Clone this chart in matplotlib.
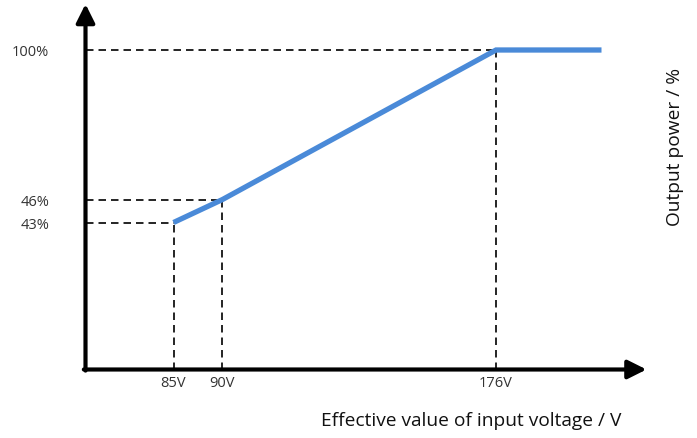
import numpy as np
import matplotlib
matplotlib.use("Agg")
import matplotlib.pyplot as plt

plt.rcParams['font.family'] = ['Open Sans', 'DejaVu Sans']

# curve: input voltage (V) -> output power (%)
voltage = [85, 90, 176, 200]
power = [43, 46, 100, 100]

# marked points with guide lines
guide_v = [85, 90, 176]
guide_p = [43, 46, 100]
xtick_labels = ["85V", "90V", "176V"]
ytick_labels = ["43%", "46%", "100%"]

# schematic (non-linear) axis scales, as drawn in the original
x_knots = [70, 85, 90, 176, 200, 215]
x_units = [0, 88, 137, 410.5, 516, 561]
y_knots = [0, 43, 46, 100, 115]
y_units = [0, 147, 170, 319.5, 365.5]


def fwd_x(v):
    return np.interp(v, x_knots, x_units)


def inv_x(u):
    return np.interp(u, x_units, x_knots)


def fwd_y(v):
    return np.interp(v, y_knots, y_units)


def inv_y(u):
    return np.interp(u, y_units, y_knots)


W, H = 697, 439
fig = plt.figure(figsize=(W / 100, H / 100), dpi=100)
ax = fig.add_axes([85.5 / W, (H - 370.5) / H, 561 / W, 365.5 / H])
ax.set_xscale('function', functions=(fwd_x, inv_x))
ax.set_yscale('function', functions=(fwd_y, inv_y))
ax.set_xlim(x_knots[0], x_knots[-1])
ax.set_ylim(y_knots[0], y_knots[-1])

for s in ax.spines.values():
    s.set_visible(False)

# guide lines
for v, p in zip(guide_v, guide_p):
    ax.plot([x_knots[0], v], [p, p], color='black', lw=1.2, ls=(0, (4.5, 3)), zorder=2)
    ax.plot([v, v], [y_knots[0], p], color='black', lw=1.2, ls=(0, (4.5, 3)), zorder=2)

ax.plot(voltage, power, color='#4a8ad8', lw=3.8, solid_capstyle='butt',
        solid_joinstyle='miter', zorder=3)

# axes with arrow heads
arrow = dict(arrowstyle='-|>,head_length=0.8,head_width=0.4', lw=3,
             color='black', mutation_scale=14, shrinkA=0, shrinkB=0)
ax.annotate('', xy=(1, 0), xytext=(-0.003, 0), xycoords='axes fraction',
            arrowprops=arrow, annotation_clip=False)
ax.annotate('', xy=(0, 1), xytext=(0, -0.003), xycoords='axes fraction',
            arrowprops=arrow, annotation_clip=False)

ax.set_xticks(guide_v)
ax.set_xticklabels(xtick_labels)
ax.set_yticks(guide_p)
ax.set_yticklabels(ytick_labels)
ax.minorticks_off()
ax.tick_params(axis='x', length=0, pad=4, labelsize=10.5, labelcolor='#333333')
ax.tick_params(axis='y', length=0, pad=26, labelsize=10.5, labelcolor='#333333')

fig.text(471 / W, 1 - 421 / H, "Effective value of input voltage / V",
         ha='center', va='center', fontsize=13.8, color='#111111')
fig.text(675 / W, 1 - 147 / H, "Output power / %", rotation=90,
         ha='center', va='center', fontsize=13.8, color='#111111')

fig.savefig("out.png", dpi=100)
